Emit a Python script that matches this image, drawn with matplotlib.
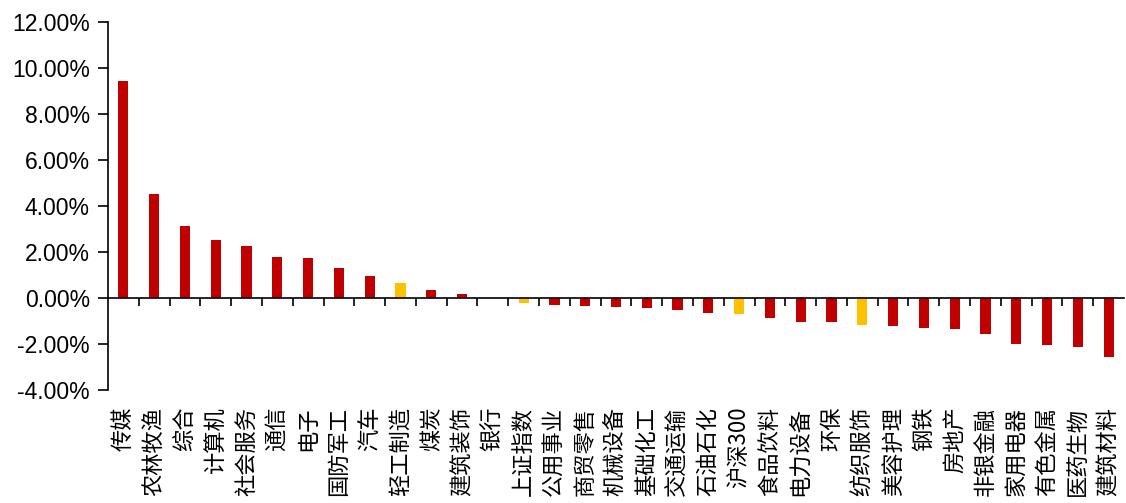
import matplotlib
matplotlib.use("Agg")
import matplotlib.pyplot as plt
import matplotlib.transforms as mtransforms
from matplotlib.ticker import FuncFormatter, FixedLocator

plt.rcParams['font.family'] = ['Noto Sans CJK SC', 'DejaVu Sans']

# industry names and their returns (%)
categories = ['传媒', '农林牧渔', '综合', '计算机', '社会服务', '通信', '电子', '国防军工',
              '汽车', '轻工制造', '煤炭', '建筑装饰', '银行', '上证指数', '公用事业', '商贸零售',
              '机械设备', '基础化工', '交通运输', '石油石化', '沪深300', '食品饮料', '电力设备',
              '环保', '纺织服饰', '美容护理', '钢铁', '房地产', '非银金融', '家用电器',
              '有色金属', '医药生物', '建筑材料']
values = [9.43, 4.52, 3.13, 2.52, 2.26, 1.78, 1.74, 1.30, 0.96, 0.65, 0.35, 0.17, 0.01,
          -0.20, -0.30, -0.35, -0.40, -0.45, -0.52, -0.67, -0.70, -0.85, -1.03, -1.05,
          -1.17, -1.22, -1.32, -1.33, -1.57, -2.00, -2.06, -2.12, -2.57]
highlight = ['轻工制造', '上证指数', '沪深300', '纺织服饰']
y_ticks = [-4, -2, 0, 2, 4, 6, 8, 10, 12]

colors = ['#FFC000' if c in highlight else '#C00000' for c in categories]

fig = plt.figure(figsize=(11.26, 5.03), dpi=100)
ax = fig.add_axes([108 / 1126, 113 / 503, 1 - 110 / 1126, (481 - 113) / 503])

x = list(range(len(categories)))
ax.bar(x, values, width=0.33, color=colors, zorder=2)

ax.set_xlim(-0.5, len(categories) - 0.5)
ax.set_ylim(-4, 12)

# y axis
ax.yaxis.set_major_locator(FixedLocator(y_ticks))
ax.yaxis.set_major_formatter(FuncFormatter(lambda v, p: f'{v:.2f}%'))
for lab in ax.get_yticklabels():
    lab.set_family(['Liberation Sans', 'DejaVu Sans'])
ax.tick_params(axis='y', direction='out', length=7, width=1.2, labelsize=16.5, pad=6)

# x axis sits on zero, ticks between categories
ax.spines['bottom'].set_position(('data', 0))
ax.spines['top'].set_visible(False)
ax.spines['right'].set_visible(False)
ax.spines['left'].set_linewidth(1.2)
ax.spines['bottom'].set_linewidth(1.2)
ax.set_xticks([i + 0.5 for i in x[:-1]])
ax.set_xticklabels([])
ax.tick_params(axis='x', direction='out', length=6, width=1.2)

# category labels below the plot
trans = mtransforms.blended_transform_factory(ax.transData, ax.transAxes)
for i, c in zip(x, categories):
    ax.text(i, -0.045, c, transform=trans, rotation=90, ha='center', va='top',
            fontsize=16)

fig.savefig('out.png', dpi=100)
